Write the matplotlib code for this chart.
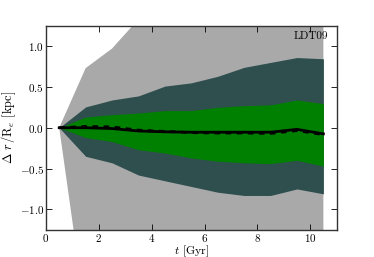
import numpy as np
import matplotlib
matplotlib.use("Agg")
import matplotlib.pyplot as plt

plt.rcParams['font.family'] = 'serif'
plt.rcParams['font.serif'] = ['cmr10']
plt.rcParams['mathtext.fontset'] = 'cm'
plt.rcParams['axes.formatter.use_mathtext'] = True

# time bins (Gyr)
t = [0.5, 1.5, 2.5, 3.5, 4.5, 5.5, 6.5, 7.5, 8.5, 9.5, 10.5]

# outer (grey) envelope
outer_hi = [0.0, 0.73, 0.97, 1.33, 1.55, 1.7, 1.85, 1.95, 2.05, 2.15, 2.2]
outer_lo = [0.0, -2.3, -2.8, -3.0, -3.1, -3.2, -3.3, -3.4, -3.5, -3.5, -3.6]

# middle (dark slate) envelope
mid_hi = [0.0, 0.255, 0.34, 0.39, 0.51, 0.55, 0.63, 0.74, 0.80, 0.86, 0.845]
mid_lo = [0.0, -0.35, -0.43, -0.58, -0.65, -0.72, -0.79, -0.83, -0.83, -0.75, -0.81]

# inner (green) envelope
in_hi = [0.0, 0.13, 0.16, 0.18, 0.21, 0.21, 0.25, 0.27, 0.28, 0.34, 0.295]
in_lo = [0.0, -0.12, -0.17, -0.27, -0.31, -0.37, -0.41, -0.43, -0.44, -0.40, -0.47]

# median and mean
median = [0.0, 0.0, -0.01, -0.04, -0.05, -0.055, -0.055, -0.055, -0.055, -0.02, -0.075]
mean = [0.0, 0.015, 0.01, -0.03, -0.045, -0.06, -0.065, -0.065, -0.07, -0.035, -0.085]

fig = plt.figure(figsize=(3.74, 2.57), dpi=100)
ax = fig.add_axes([0.123, 0.106, 0.777, 0.794])

ax.fill_between(t, outer_lo, outer_hi, color='#A9A9A9', lw=0)
ax.fill_between(t, mid_lo, mid_hi, color='#2F4F4F', lw=0)
ax.fill_between(t, in_lo, in_hi, color='#008000', lw=0)
ax.plot(t, median, 'k-', lw=2)
ax.plot(t, mean, 'k--', lw=2, dashes=(2, 2))

ax.set_xlim(0, 11)
ax.set_ylim(-1.25, 1.25)
ax.set_xticks([0, 2, 4, 6, 8, 10])
ax.set_yticks([-1.0, -0.5, 0.0, 0.5, 1.0])
ax.yaxis.set_major_formatter(matplotlib.ticker.FormatStrFormatter('$%.1f$'))
ax.tick_params(direction='in', top=True, right=True, labelsize=8, length=4, width=0.6, pad=1.5)
for s in ax.spines.values():
    s.set_linewidth(1.0)
    s.set_color('#333333')

ax.set_xlabel(r'$t$ [Gyr]', fontsize=8.5, labelpad=0)
ax.set_ylabel(r'$\Delta\ r\,/\mathrm{R}_e$ [kpc]', fontsize=9, labelpad=1)
ax.text(0.97, 0.95, 'LDT09', transform=ax.transAxes, ha='right', va='center', fontsize=8)

fig.savefig('out.png', dpi=100)
